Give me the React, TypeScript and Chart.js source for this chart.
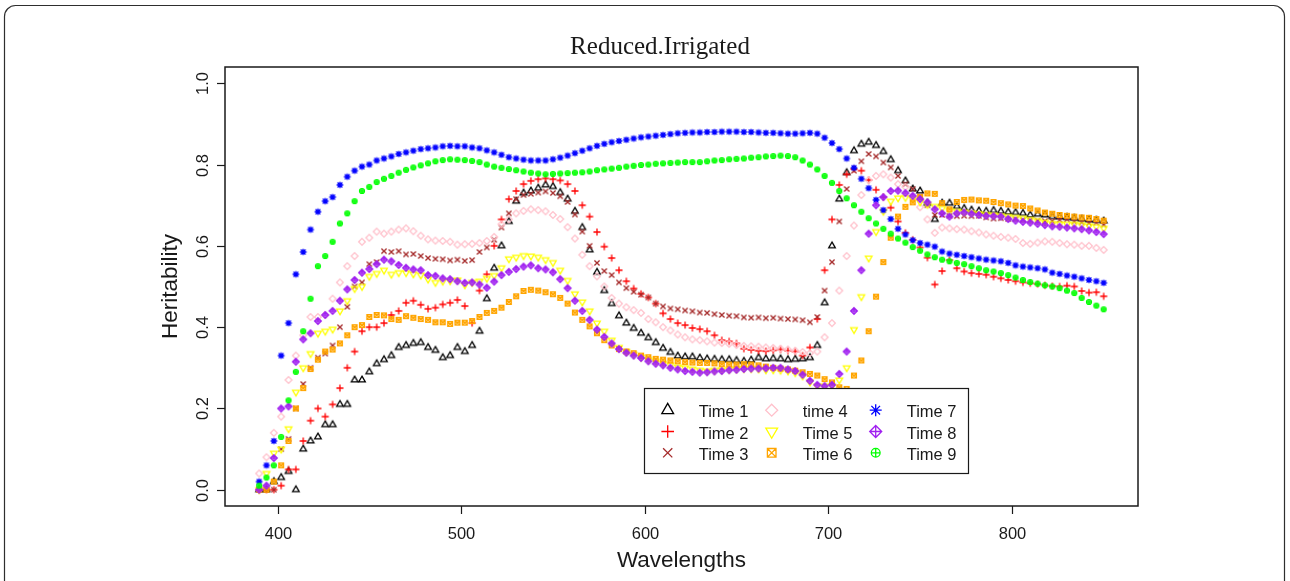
import { useEffect, useRef } from "react";
import { Chart, registerables } from "chart.js";

Chart.register(...registerables);

const TITLE = "Reduced.Irrigated";
const X_LABEL = "Wavelengths";
const Y_LABEL = "Heritability";

const X_TICKS = [400, 500, 600, 700, 800];
const X_TICK_LABELS = ["400", "500", "600", "700", "800"];
const Y_TICKS = [0, 0.2, 0.4, 0.6, 0.8, 1.0];
const Y_TICK_LABELS = ["0.0", "0.2", "0.4", "0.6", "0.8", "1.0"];

const WAVELENGTHS = [
  390, 394, 398, 402, 406, 410, 414, 418, 422, 426,
  430, 434, 438, 442, 446, 450, 454, 458, 462, 466,
  470, 474, 478, 482, 486, 490, 494, 498, 502, 506,
  510, 514, 518, 522, 526, 530, 534, 538, 542, 546,
  550, 554, 558, 562, 566, 570, 574, 578, 582, 586,
  590, 594, 598, 602, 606, 610, 614, 618, 622, 626,
  630, 634, 638, 642, 646, 650, 654, 658, 662, 666,
  670, 674, 678, 682, 686, 690, 694, 698, 702, 706,
  710, 714, 718, 722, 726, 730, 734, 738, 742, 746,
  750, 754, 758, 762, 766, 770, 774, 778, 782, 786,
  790, 794, 798, 802, 806, 810, 814, 818, 822, 826,
  830, 834, 838, 842, 846, 850,
];

const TIME1 = [
  0.0, 0.0, 0.02, 0.03, 0.045, 0.0, 0.10, 0.12, 0.13, 0.16,
  0.16, 0.21, 0.21, 0.27, 0.27, 0.29, 0.31, 0.32, 0.33, 0.35,
  0.355, 0.36, 0.362, 0.35, 0.343, 0.325, 0.33, 0.35, 0.34, 0.355,
  0.39, 0.47, 0.545, 0.6, 0.66, 0.71, 0.73, 0.735, 0.742, 0.75,
  0.746, 0.731, 0.715, 0.685, 0.645, 0.59, 0.535, 0.49, 0.458, 0.428,
  0.41, 0.397, 0.385, 0.374, 0.362, 0.348, 0.338, 0.329, 0.327, 0.327,
  0.324, 0.322, 0.321, 0.32, 0.32, 0.318, 0.316, 0.319, 0.325, 0.322,
  0.323, 0.322, 0.32, 0.321, 0.322, 0.325, 0.355, 0.46, 0.6, 0.715,
  0.78, 0.834, 0.85, 0.855, 0.847, 0.832, 0.812, 0.785, 0.76, 0.74,
  0.735, 0.705, 0.665, 0.705, 0.705, 0.697, 0.692, 0.688, 0.686, 0.685,
  0.687, 0.685, 0.683, 0.682, 0.68, 0.676, 0.678, 0.676, 0.672, 0.671,
  0.67, 0.668, 0.666, 0.664, 0.663, 0.661,
];

const TIME2 = [
  0.0, 0.0, 0.0, 0.01, 0.05, 0.05, 0.12, 0.17, 0.2, 0.18,
  0.21, 0.25, 0.3, 0.34, 0.39, 0.4, 0.4, 0.41, 0.43, 0.44,
  0.46, 0.465, 0.455, 0.445, 0.448, 0.456, 0.46, 0.467, 0.452, 0.41,
  0.49, 0.53, 0.6, 0.665, 0.715, 0.735, 0.752, 0.76, 0.764, 0.766,
  0.764, 0.761, 0.752, 0.735, 0.7, 0.672, 0.634, 0.598, 0.57, 0.54,
  0.513, 0.495, 0.482, 0.473, 0.458, 0.434, 0.42, 0.41, 0.405, 0.398,
  0.395, 0.39, 0.38, 0.368, 0.365, 0.36, 0.347, 0.344, 0.342, 0.341,
  0.343, 0.345, 0.342, 0.34, 0.33, 0.35, 0.42, 0.54, 0.665, 0.75,
  0.776, 0.789, 0.785, 0.762, 0.738, 0.72, 0.694, 0.66, 0.632, 0.615,
  0.596, 0.571, 0.505, 0.538, 0.565, 0.545, 0.537, 0.533, 0.531, 0.529,
  0.524, 0.52, 0.516, 0.513, 0.51, 0.508, 0.506, 0.503, 0.501, 0.5,
  0.502, 0.5, 0.489, 0.485, 0.486, 0.476,
];

const TIME3 = [
  0.0, 0.0, 0.0, 0.1, 0.125, 0.2, 0.26, 0.3, 0.325, 0.335,
  0.355, 0.4, 0.45, 0.5, 0.51, 0.555, 0.56, 0.587, 0.585, 0.587,
  0.579, 0.58, 0.575, 0.57, 0.568, 0.567, 0.564, 0.566, 0.563, 0.565,
  0.585, 0.596, 0.615, 0.645, 0.68, 0.715, 0.725, 0.728, 0.731, 0.734,
  0.73, 0.722, 0.708, 0.677, 0.635, 0.6, 0.558, 0.538, 0.528, 0.51,
  0.496, 0.487, 0.48, 0.473, 0.458, 0.451, 0.446, 0.444, 0.441, 0.439,
  0.436, 0.435, 0.432, 0.43, 0.428, 0.427, 0.424, 0.423, 0.424, 0.422,
  0.423, 0.421, 0.42, 0.419, 0.417, 0.412, 0.425, 0.49, 0.56, 0.66,
  0.74, 0.785, 0.808, 0.826, 0.82, 0.805, 0.793, 0.772, 0.752, 0.74,
  0.722, 0.7, 0.676, 0.676, 0.674, 0.673, 0.674, 0.673, 0.674, 0.67,
  0.667, 0.668, 0.666, 0.666, 0.664, 0.663, 0.662, 0.661, 0.661, 0.664,
  0.665, 0.66, 0.658, 0.656, 0.657, 0.652,
];

const TIME4 = [
  0.04, 0.08, 0.14, 0.18, 0.27, 0.33, 0.38, 0.425, 0.425, 0.43,
  0.47, 0.51, 0.55, 0.575, 0.61, 0.62, 0.635, 0.63, 0.635, 0.64,
  0.643, 0.636, 0.625, 0.616, 0.613, 0.612, 0.61, 0.603, 0.604, 0.605,
  0.607, 0.612, 0.622, 0.653, 0.665, 0.68, 0.686, 0.69, 0.688, 0.685,
  0.676, 0.666, 0.646, 0.618, 0.578, 0.55, 0.525, 0.5, 0.472, 0.458,
  0.449, 0.442, 0.435, 0.42, 0.412, 0.4, 0.392, 0.382, 0.375, 0.37,
  0.368, 0.365, 0.362, 0.361, 0.359, 0.356, 0.354, 0.353, 0.352, 0.35,
  0.349, 0.347, 0.345, 0.342, 0.339, 0.336, 0.34, 0.375, 0.41, 0.49,
  0.575, 0.65, 0.725, 0.762, 0.772, 0.776, 0.768, 0.752, 0.745, 0.72,
  0.695, 0.665, 0.632, 0.645, 0.643, 0.641, 0.64, 0.636, 0.633, 0.628,
  0.625, 0.622, 0.62, 0.617, 0.607, 0.605, 0.608, 0.611, 0.61, 0.607,
  0.604, 0.603, 0.6, 0.6, 0.595, 0.59,
];

const TIME5 = [
  0.0, 0.04, 0.09, 0.1, 0.15, 0.24, 0.3, 0.335, 0.385, 0.39,
  0.395, 0.44, 0.465, 0.495, 0.5, 0.525, 0.532, 0.54, 0.53, 0.534,
  0.534, 0.531, 0.528, 0.518, 0.51, 0.513, 0.514, 0.516, 0.504, 0.51,
  0.513, 0.52, 0.527, 0.546, 0.568, 0.572, 0.576, 0.575, 0.572, 0.566,
  0.559, 0.54, 0.515, 0.482, 0.462, 0.44, 0.41, 0.39, 0.368, 0.35,
  0.34, 0.333, 0.326, 0.32, 0.316, 0.311, 0.307, 0.302, 0.3, 0.297,
  0.294, 0.292, 0.294, 0.295, 0.296, 0.297, 0.298, 0.298, 0.297, 0.295,
  0.295, 0.294, 0.292, 0.288, 0.28, 0.265, 0.255, 0.255, 0.255, 0.27,
  0.3, 0.394, 0.475, 0.57, 0.635, 0.685, 0.71, 0.718, 0.719, 0.715,
  0.708, 0.702, 0.697, 0.692, 0.687, 0.685, 0.683, 0.681, 0.679, 0.677,
  0.676, 0.674, 0.672, 0.67, 0.668, 0.665, 0.662, 0.658, 0.655, 0.654,
  0.653, 0.653, 0.652, 0.649, 0.647, 0.643,
];

const TIME6 = [
  0.0, 0.0, 0.02, 0.06, 0.12, 0.2, 0.25, 0.297, 0.32, 0.34,
  0.345, 0.36, 0.38, 0.4, 0.405, 0.425, 0.43, 0.429, 0.42, 0.418,
  0.427, 0.423, 0.42, 0.418, 0.412, 0.412, 0.408, 0.411, 0.411, 0.415,
  0.425, 0.435, 0.44, 0.448, 0.462, 0.476, 0.489, 0.492, 0.49, 0.486,
  0.481, 0.472, 0.458, 0.436, 0.418, 0.402, 0.385, 0.368, 0.355, 0.346,
  0.34, 0.336, 0.33, 0.326, 0.322, 0.32, 0.318, 0.316, 0.314, 0.313,
  0.312, 0.312, 0.311, 0.309, 0.308, 0.308, 0.309, 0.308, 0.306, 0.303,
  0.3, 0.298, 0.296, 0.293, 0.289, 0.285, 0.281, 0.272, 0.264, 0.252,
  0.248, 0.281, 0.318, 0.39, 0.475, 0.56, 0.62, 0.672, 0.696, 0.707,
  0.72, 0.729, 0.728, 0.705, 0.69, 0.708, 0.713, 0.714, 0.712, 0.711,
  0.708, 0.705, 0.702, 0.699, 0.698, 0.692, 0.687, 0.682, 0.679, 0.676,
  0.674, 0.672, 0.67, 0.669, 0.666, 0.662,
];

const TIME7 = [
  0.02, 0.06, 0.12, 0.33, 0.41, 0.53, 0.585, 0.64, 0.684, 0.71,
  0.72, 0.75, 0.77, 0.785, 0.795, 0.8, 0.81, 0.815, 0.82, 0.826,
  0.83, 0.834, 0.838, 0.84, 0.842, 0.845, 0.846, 0.845, 0.845, 0.842,
  0.84, 0.835, 0.83, 0.824, 0.818, 0.815, 0.812, 0.81, 0.81, 0.81,
  0.813, 0.817, 0.822, 0.828, 0.834, 0.84, 0.846, 0.851, 0.855, 0.858,
  0.861, 0.864, 0.867, 0.869, 0.871, 0.873, 0.875, 0.877, 0.878, 0.879,
  0.879, 0.88, 0.88, 0.881, 0.881, 0.881, 0.88, 0.88, 0.879, 0.878,
  0.878, 0.877, 0.876, 0.876, 0.877, 0.878, 0.876, 0.866, 0.853, 0.838,
  0.815, 0.792, 0.765, 0.742, 0.713, 0.688, 0.666, 0.642, 0.628, 0.614,
  0.607, 0.603, 0.598, 0.586, 0.581, 0.578, 0.575, 0.572, 0.569, 0.566,
  0.564, 0.562, 0.558, 0.552, 0.549, 0.547, 0.545, 0.542, 0.534, 0.531,
  0.527, 0.524, 0.52, 0.516, 0.513, 0.509,
];

const TIME8 = [
  0.0, 0.01, 0.078, 0.2, 0.205, 0.315, 0.37, 0.385, 0.415, 0.43,
  0.44, 0.465, 0.493, 0.516, 0.534, 0.543, 0.555, 0.566, 0.562, 0.553,
  0.546, 0.542, 0.54, 0.528, 0.526, 0.52, 0.518, 0.513, 0.509, 0.51,
  0.505, 0.497, 0.512, 0.528, 0.536, 0.543, 0.549, 0.552, 0.545, 0.542,
  0.535, 0.518, 0.496, 0.465, 0.44, 0.418, 0.394, 0.376, 0.36, 0.346,
  0.337, 0.33, 0.324, 0.316, 0.31, 0.306, 0.3, 0.296, 0.292, 0.29,
  0.288, 0.289, 0.291, 0.292, 0.294, 0.295, 0.297, 0.298, 0.298, 0.299,
  0.3, 0.3, 0.296, 0.292, 0.283, 0.268, 0.258, 0.255, 0.258, 0.285,
  0.34, 0.44, 0.54, 0.63, 0.7, 0.72, 0.735, 0.736, 0.73, 0.723,
  0.715, 0.707, 0.69, 0.68, 0.672, 0.68, 0.682, 0.679, 0.676, 0.674,
  0.673, 0.672, 0.666, 0.662, 0.659, 0.657, 0.654, 0.651, 0.648, 0.647,
  0.645, 0.643, 0.641, 0.638, 0.634, 0.629,
];

const TIME9 = [
  0.01, 0.03, 0.06, 0.13, 0.22, 0.29, 0.39, 0.47, 0.55, 0.575,
  0.61, 0.655, 0.68, 0.71, 0.735, 0.745, 0.757, 0.765, 0.772, 0.78,
  0.787, 0.793, 0.798, 0.803, 0.808, 0.811, 0.813, 0.812, 0.811, 0.809,
  0.806, 0.8, 0.795, 0.792, 0.789, 0.786, 0.783, 0.78, 0.778, 0.776,
  0.777, 0.778, 0.779, 0.78, 0.781, 0.783, 0.786, 0.788, 0.79, 0.792,
  0.795, 0.797, 0.799, 0.8, 0.802, 0.803, 0.804, 0.805, 0.806, 0.806,
  0.806, 0.808, 0.81, 0.811, 0.813, 0.814, 0.815, 0.817, 0.818, 0.82,
  0.821, 0.822, 0.821, 0.818, 0.81, 0.8, 0.788, 0.772, 0.755, 0.735,
  0.717, 0.7, 0.684, 0.668, 0.655, 0.642, 0.63, 0.618, 0.608, 0.597,
  0.588, 0.579, 0.572, 0.566, 0.562, 0.558, 0.555, 0.55, 0.545, 0.54,
  0.537, 0.533, 0.528, 0.522, 0.516, 0.511, 0.507, 0.503, 0.5, 0.496,
  0.49, 0.484, 0.472, 0.462, 0.453, 0.444,
];

const SERIES_NAMES = ["Time 1", "Time 2", "Time 3", "time 4", "Time 5", "Time 6", "Time 7", "Time 8", "Time 9"];
const SERIES_VALUES = [TIME1, TIME2, TIME3, TIME4, TIME5, TIME6, TIME7, TIME8, TIME9];
const SERIES_COLORS = ["#000000", "#FF0000", "#A52A2A", "#FFC0CB", "#FFFF00", "#FFA500", "#0000FF", "#A020F0", "#00FF00"];
const SERIES_MARKERS = ["tri", "plus", "cross", "diamond", "trid", "sqx", "star", "diamplus", "circplus"];

const SANS = '"Liberation Sans", Arial, Helvetica, sans-serif';
const SERIF = '"Liberation Serif", "Times New Roman", serif';

function drawMarker(
  ctx: CanvasRenderingContext2D,
  kind: string,
  cx: number,
  cy: number,
  s: number,
  color: string,
  lw: number
) {
  ctx.save();
  ctx.strokeStyle = color;
  ctx.lineWidth = lw;
  ctx.beginPath();
  if (kind === "tri") {
    const r = 6.8 * s;
    ctx.moveTo(cx, cy - r);
    ctx.lineTo(cx + r * 0.866, cy + r * 0.5);
    ctx.lineTo(cx - r * 0.866, cy + r * 0.5);
    ctx.closePath();
  } else if (kind === "trid") {
    const r = 6.8 * s;
    ctx.moveTo(cx, cy + r);
    ctx.lineTo(cx + r * 0.866, cy - r * 0.5);
    ctx.lineTo(cx - r * 0.866, cy - r * 0.5);
    ctx.closePath();
  } else if (kind === "plus") {
    const h = 6.3 * s;
    ctx.moveTo(cx - h, cy);
    ctx.lineTo(cx + h, cy);
    ctx.moveTo(cx, cy - h);
    ctx.lineTo(cx, cy + h);
  } else if (kind === "cross") {
    const h = 4.6 * s;
    ctx.moveTo(cx - h, cy - h);
    ctx.lineTo(cx + h, cy + h);
    ctx.moveTo(cx + h, cy - h);
    ctx.lineTo(cx - h, cy + h);
  } else if (kind === "diamond") {
    const h = 6.0 * s;
    ctx.moveTo(cx, cy - h);
    ctx.lineTo(cx + h, cy);
    ctx.lineTo(cx, cy + h);
    ctx.lineTo(cx - h, cy);
    ctx.closePath();
  } else if (kind === "sqx") {
    const h = 4.3 * s;
    ctx.rect(cx - h, cy - h, 2 * h, 2 * h);
    ctx.moveTo(cx - h, cy - h);
    ctx.lineTo(cx + h, cy + h);
    ctx.moveTo(cx + h, cy - h);
    ctx.lineTo(cx - h, cy + h);
  } else if (kind === "star") {
    const h = 6.0 * s;
    const d = h * 0.72;
    ctx.moveTo(cx - h, cy);
    ctx.lineTo(cx + h, cy);
    ctx.moveTo(cx, cy - h);
    ctx.lineTo(cx, cy + h);
    ctx.moveTo(cx - d, cy - d);
    ctx.lineTo(cx + d, cy + d);
    ctx.moveTo(cx + d, cy - d);
    ctx.lineTo(cx - d, cy + d);
  } else if (kind === "diamplus") {
    const h = 6.0 * s;
    ctx.moveTo(cx, cy - h);
    ctx.lineTo(cx + h, cy);
    ctx.lineTo(cx, cy + h);
    ctx.lineTo(cx - h, cy);
    ctx.closePath();
    ctx.moveTo(cx - h, cy);
    ctx.lineTo(cx + h, cy);
    ctx.moveTo(cx, cy - h);
    ctx.lineTo(cx, cy + h);
  } else if (kind === "circplus") {
    const r = 4.4 * s;
    ctx.arc(cx, cy, r, 0, Math.PI * 2);
    ctx.moveTo(cx - r, cy);
    ctx.lineTo(cx + r, cy);
    ctx.moveTo(cx, cy - r);
    ctx.lineTo(cx, cy + r);
  }
  ctx.stroke();
  ctx.restore();
}

function makeMarkerImage(kind: string, color: string): HTMLCanvasElement {
  const size = 14;
  const c = document.createElement("canvas");
  c.width = size;
  c.height = size;
  const g = c.getContext("2d") as CanvasRenderingContext2D;
  drawMarker(g, kind, size / 2, size / 2, 0.56, color, 1.3);
  return c;
}

const rPlotPlugin = {
  id: "rPlot",
  beforeDraw(chart: any) {
    const ctx: CanvasRenderingContext2D = chart.ctx;
    ctx.save();
    ctx.fillStyle = "#ffffff";
    ctx.fillRect(0, 0, chart.width, chart.height);
    // outer rounded frame
    const x0 = 4.5, y0 = 5.5, x1 = 1284.5, y1 = 720, r = 11;
    ctx.beginPath();
    ctx.moveTo(x0 + r, y0);
    ctx.lineTo(x1 - r, y0);
    ctx.arcTo(x1, y0, x1, y0 + r, r);
    ctx.lineTo(x1, y1);
    ctx.lineTo(x0, y1);
    ctx.lineTo(x0, y0 + r);
    ctx.arcTo(x0, y0, x0 + r, y0, r);
    ctx.closePath();
    ctx.strokeStyle = "#2e2e2e";
    ctx.lineWidth = 1.2;
    ctx.stroke();
    ctx.restore();
  },
  afterDatasetsDraw(chart: any) {
    const ctx: CanvasRenderingContext2D = chart.ctx;
    const area = chart.chartArea;
    const xs = chart.scales.x;
    const ys = chart.scales.y;
    ctx.save();
    ctx.strokeStyle = "#1a1a1a";
    ctx.fillStyle = "#1a1a1a";
    ctx.lineWidth = 1.5;
    ctx.strokeRect(area.left, area.top, area.right - area.left, area.bottom - area.top);

    // x ticks
    ctx.lineWidth = 1.2;
    ctx.font = `16.5px ${SANS}`;
    ctx.textAlign = "center";
    ctx.textBaseline = "alphabetic";
    X_TICKS.forEach((v, i) => {
      const px = Math.round(xs.getPixelForValue(v)) + 0.5;
      ctx.beginPath();
      ctx.moveTo(px, area.bottom);
      ctx.lineTo(px, area.bottom + 8);
      ctx.stroke();
      ctx.fillText(X_TICK_LABELS[i], px, area.bottom + 33);
    });

    // y ticks
    Y_TICKS.forEach((v, i) => {
      const py = Math.round(ys.getPixelForValue(v)) + 0.5;
      ctx.beginPath();
      ctx.moveTo(area.left - 8, py);
      ctx.lineTo(area.left, py);
      ctx.stroke();
      ctx.save();
      ctx.translate(area.left - 17, py);
      ctx.rotate(-Math.PI / 2);
      ctx.fillText(Y_TICK_LABELS[i], 0, 0);
      ctx.restore();
    });

    // axis titles
    ctx.font = `22.5px ${SANS}`;
    ctx.fillText(X_LABEL, (area.left + area.right) / 2, 567);
    ctx.save();
    ctx.translate(177, (area.top + area.bottom) / 2);
    ctx.rotate(-Math.PI / 2);
    ctx.fillText(Y_LABEL, 0, 0);
    ctx.restore();

    // main title
    ctx.font = `25px ${SERIF}`;
    ctx.fillText(TITLE, 660, 54);

    // legend
    const lx = 644.5, ly = 388.5, lw = 324, lh = 85;
    ctx.fillStyle = "#ffffff";
    ctx.fillRect(lx, ly, lw, lh);
    ctx.strokeStyle = "#1a1a1a";
    ctx.lineWidth = 1.2;
    ctx.strokeRect(lx, ly, lw, lh);
    ctx.fillStyle = "#1a1a1a";
    ctx.font = `16.5px ${SANS}`;
    ctx.textAlign = "left";
    const colSym = [667.7, 771.7, 875.7];
    SERIES_NAMES.forEach((name, i) => {
      const col = Math.floor(i / 3);
      const row = i % 3;
      const yc = 411.2 + row * 21.3;
      drawMarker(ctx, SERIES_MARKERS[i], colSym[col], yc - 1, 1, SERIES_COLORS[i], 1.3);
      ctx.fillText(name, colSym[col] + 31, yc + 6.1);
    });
    ctx.restore();
  },
};

export default function App() {
  const ref = useRef<HTMLCanvasElement>(null);
  useEffect(() => {
    const canvas = ref.current;
    if (!canvas) return;
    const datasets = SERIES_VALUES.map((vals, i) => ({
      label: SERIES_NAMES[i],
      data: WAVELENGTHS.map((x, j) => ({ x, y: vals[j] })),
      pointStyle: makeMarkerImage(SERIES_MARKERS[i], SERIES_COLORS[i]),
      pointRadius: 3,
      showLine: false,
      order: SERIES_VALUES.length - i,
    }));
    const chart = new Chart(canvas, {
      type: "scatter",
      data: { datasets },
      options: {
        responsive: false,
        devicePixelRatio: 1,
        animation: false,
        events: [],
        layout: { padding: { left: 225, top: 67, right: 152, bottom: 75 } },
        plugins: {
          legend: { display: false },
          title: { display: false },
          tooltip: { enabled: false },
        },
        scales: {
          x: { type: "linear", min: 371.4, max: 868.7, display: false },
          y: { type: "linear", min: -0.04, max: 1.04, display: false },
        },
      },
      plugins: [rPlotPlugin],
    } as any);
    return () => chart.destroy();
  }, []);
  return (
    <div style={{ position: "fixed", left: 0, top: 0, width: 1290, height: 581, background: "#fff" }}>
      <canvas ref={ref} width={1290} height={581} style={{ display: "block", width: 1290, height: 581 }} />
    </div>
  );
}
